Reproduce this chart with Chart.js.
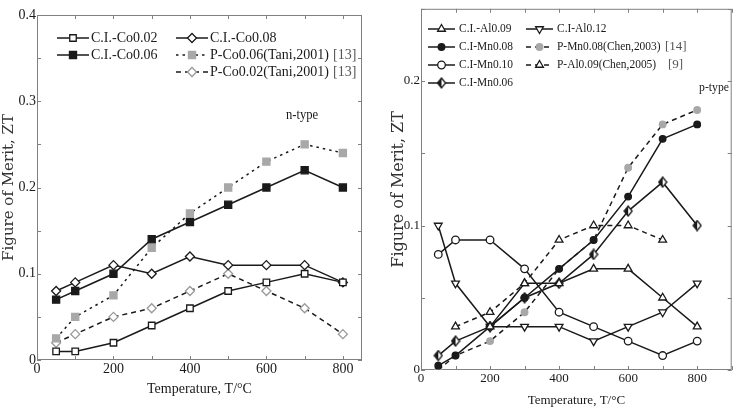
<!DOCTYPE html>
<html>
<head>
<meta charset="utf-8">
<script src="https://cdn.jsdelivr.net/npm/chart.js@4/dist/chart.umd.min.js"></script>
<style>
  html, body { margin: 0; padding: 0; background: #fff; }
  #wrap { position: relative; width: 738px; height: 408px; }
  .box { position: absolute; top: 0; width: 369px; height: 408px; }
</style>
</head>
<body>
<div id="wrap">
  <div class="box" style="left:0"><canvas id="nChart" width="369" height="408"></canvas></div>
  <div class="box" style="left:369px"><canvas id="pChart" width="369" height="408"></canvas></div>
</div>
<script>
// temperatures (deg C)
var temps = [50, 100, 200, 300, 400, 500, 600, 700, 800];
var tempsAl = [200, 300, 400, 500, 600, 700, 800];
var tempsPAl = [100, 200, 300, 400, 500, 600, 700];

// n-type (left)
var nLabels = ["C.I.-Co0.02", "C.I.-Co0.06", "C.I.-Co0.08", "P-Co0.06(Tani,2001)", "P-Co0.02(Tani,2001)"];
var nRefs = ["", "", "", "[13]", "[13]"];
var co002 = [0.01, 0.01, 0.02, 0.04, 0.06, 0.08, 0.09, 0.10, 0.09];
var co006 = [0.07, 0.08, 0.10, 0.14, 0.16, 0.18, 0.20, 0.22, 0.20];
var co008 = [0.08, 0.09, 0.11, 0.10, 0.12, 0.11, 0.11, 0.11, 0.09];
var pCo006 = [0.025, 0.05, 0.075, 0.13, 0.17, 0.20, 0.23, 0.25, 0.24];
var pCo002 = [0.02, 0.03, 0.05, 0.06, 0.08, 0.10, 0.08, 0.06, 0.03];

// p-type (right)
var pLabels = ["C.I.-Al0.09", "C.I-Mn0.08", "C.I-Mn0.10", "C.I-Mn0.06", "C.I-Al0.12", "P-Mn0.08(Chen,2003)", "P-Al0.09(Chen,2005)"];
var pRefs = ["", "", "", "", "", "[14]", "[9]"];
var al009 = [0.03, 0.06, 0.06, 0.07, 0.07, 0.05, 0.03];
var mn008 = [0.003, 0.01, 0.03, 0.05, 0.07, 0.09, 0.12, 0.16, 0.17];
var mn010 = [0.08, 0.09, 0.09, 0.07, 0.04, 0.03, 0.02, 0.01, 0.02];
var mn006 = [0.01, 0.02, 0.03, 0.05, 0.06, 0.08, 0.11, 0.13, 0.10];
var al012 = [0.10, 0.06, 0.03, 0.03, 0.03, 0.02, 0.03, 0.04, 0.06];
var pMn008 = [0.0, 0.01, 0.02, 0.04, 0.07, 0.09, 0.14, 0.17, 0.18];
var pAl009 = [0.03, 0.04, 0.06, 0.09, 0.10, 0.10, 0.09];

// labelled ticks
var xTickLabels = [0, 200, 400, 600, 800];
var nYTickLabels = [0, 0.1, 0.2, 0.3, 0.4];
var pYTickLabels = [0, 0.1, 0.2];

var INK = "#1a1a1a";
var GREY = "#a8a8a8";
var FRAME = "#808080";

function pts(xs, ys) {
  return xs.map(function (x, i) { return { x: x, y: ys[i] }; });
}

function series(label, xs, ys, s) {
  return {
    label: label,
    data: pts(xs, ys),
    borderColor: INK,
    borderWidth: 1.5,
    borderDash: s.dash || [],
    pointStyle: s.style,
    rotation: s.rot || 0,
    pointRadius: s.r,
    pointBackgroundColor: s.fill,
    pointBorderColor: s.edge || INK,
    pointBorderWidth: s.bw == null ? 1.3 : s.bw,
    tension: 0
  };
}

// half filled diamond marker
function halfDiamond() {
  var c = document.createElement("canvas");
  c.width = 10; c.height = 12;
  var g = c.getContext("2d");
  g.beginPath();
  g.moveTo(5, 1); g.lineTo(9, 6); g.lineTo(5, 11); g.lineTo(1, 6); g.closePath();
  g.fillStyle = "#fff"; g.fill();
  g.beginPath();
  g.moveTo(5, 1); g.lineTo(5, 11); g.lineTo(1, 6); g.closePath();
  g.fillStyle = INK; g.fill();
  g.beginPath();
  g.moveTo(5, 1); g.lineTo(9, 6); g.lineTo(5, 11); g.lineTo(1, 6); g.closePath();
  g.lineWidth = 1.3; g.strokeStyle = INK; g.stroke();
  return c;
}
var halfDia = halfDiamond();

function pickLabel(list) {
  return function (v) {
    for (var i = 0; i < list.length; i++) {
      if (Math.abs(list[i] - v) < 1e-6) return String(list[i]);
    }
    return "";
  };
}

// frame with inward ticks on all four sides
var frameTicks = {
  id: "frameTicks",
  beforeDatasetsDraw: function (chart) {
    var a = chart.chartArea, ctx = chart.ctx, len = 4;
    var xs = chart.scales.x, ys = chart.scales.y;
    ctx.save();
    ctx.strokeStyle = FRAME;
    ctx.lineWidth = 1;
    ctx.strokeRect(a.left + 0.5, a.top + 0.5, a.right - a.left - 1, a.bottom - a.top - 1);
    ctx.beginPath();
    xs.ticks.forEach(function (t) {
      var px = Math.round(xs.getPixelForValue(t.value)) + 0.5;
      ctx.moveTo(px, a.bottom); ctx.lineTo(px, a.bottom - len);
      ctx.moveTo(px, a.top); ctx.lineTo(px, a.top + len);
    });
    ys.ticks.forEach(function (t) {
      var py = Math.round(ys.getPixelForValue(t.value)) + 0.5;
      ctx.moveTo(a.left, py); ctx.lineTo(a.left + len, py);
      ctx.moveTo(a.right, py); ctx.lineTo(a.right - len, py);
    });
    ctx.stroke();
    ctx.restore();
  }
};

function textSqueezed(ctx, str, x, y, sx) {
  ctx.save();
  ctx.translate(x, y);
  ctx.scale(sx, 1);
  ctx.fillText(str, 0, 0);
  ctx.restore();
}

// legend box drawn inside plot, two columns
function makeLegend(cfg) {
  return {
    id: "boxLegend",
    afterDraw: function (chart) {
      var ctx = chart.ctx;
      ctx.save();
      cfg.items.forEach(function (it, i) {
        var ds = chart.data.datasets[i];
        ctx.strokeStyle = ds.borderColor;
        ctx.lineWidth = ds.borderWidth;
        ctx.setLineDash(ds.borderDash);
        ctx.beginPath();
        ctx.moveTo(it.x, it.y);
        ctx.lineTo(it.x + cfg.len, it.y);
        ctx.stroke();
        ctx.setLineDash([]);
        ctx.fillStyle = ds.pointBackgroundColor;
        ctx.strokeStyle = ds.pointBorderColor;
        ctx.lineWidth = ds.pointBorderWidth;
        Chart.helpers.drawPoint(ctx, {
          pointStyle: ds.pointStyle, rotation: ds.rotation,
          radius: ds.pointRadius, borderWidth: ds.pointBorderWidth
        }, it.x + cfg.len / 2, it.y);
        ctx.fillStyle = INK;
        ctx.font = cfg.font;
        ctx.textBaseline = "middle";
        ctx.textAlign = "left";
        textSqueezed(ctx, ds.label, it.x + cfg.len + cfg.gap, it.y, cfg.squeeze);
        if (cfg.refs[i]) {
          ctx.fillStyle = "#555";
          ctx.font = cfg.refFont;
          ctx.fillText(cfg.refs[i], it.refX, it.y);
        }
      });
      ctx.font = cfg.noteFont;
      ctx.fillStyle = INK;
      ctx.textAlign = "center";
      textSqueezed(ctx, cfg.note, cfg.noteX, cfg.noteY, 0.9);
      ctx.restore();
    }
  };
}

function baseOptions(o) {
  return {
    responsive: false,
    animation: false,
    devicePixelRatio: 1,
    layout: { padding: o.pad },
    plugins: { legend: { display: false }, tooltip: { enabled: false } },
    scales: {
      x: {
        type: "linear",
        min: 0,
        max: o.xMax,
        grid: { display: false, drawTicks: false },
        border: { display: false },
        ticks: {
          stepSize: 100, includeBounds: false, autoSkip: false, maxRotation: 0, padding: 1,
          color: INK, font: { family: "Liberation Serif", size: o.tickSize },
          callback: pickLabel(xTickLabels)
        },
        title: {
          display: true, text: "Temperature, T/\u00b0C", color: INK,
          font: { family: "Liberation Serif", size: o.xTitleSize },
          padding: { top: 0, bottom: o.xTitlePad }
        },
        afterFit: function (s) { s.height = o.xH; }
      },
      y: {
        min: 0,
        max: o.yMax,
        grid: { display: false, drawTicks: false },
        border: { display: false },
        ticks: {
          stepSize: 0.05, autoSkip: false, padding: 1,
          color: INK, font: { family: "Liberation Serif", size: o.tickSize },
          callback: pickLabel(o.yLabels)
        },
        title: {
          display: true, text: "Figure of Merit, ZT", color: "#333",
          font: { family: "DejaVu Serif", size: o.yTitleSize },
          padding: { top: 0, bottom: 0 }
        },
        afterFit: function (s) { s.width = o.yW; }
      }
    }
  };
}

// n-type chart
new Chart(document.getElementById("nChart").getContext("2d"), {
  type: "line",
  data: {
    datasets: [
      series(nLabels[0], temps, co002, { style: "rect", r: 4.6, fill: "#fff" }),
      series(nLabels[1], temps, co006, { style: "rect", r: 5, fill: INK }),
      series(nLabels[2], temps, co008, { style: "rectRot", r: 4.5, fill: "#fff" }),
      series(nLabels[3], temps, pCo006, { style: "rect", r: 5, fill: GREY, edge: GREY, dash: [2.5, 4] }),
      series(nLabels[4], temps, pCo002, { style: "rectRot", r: 4.5, fill: "#fff", edge: "#999", dash: [5, 4] })
    ]
  },
  options: baseOptions({
    pad: { top: 15, right: 7, left: 0, bottom: 0 },
    xMax: 850, yMax: 0.4, yLabels: nYTickLabels,
    tickSize: 14, xTitleSize: 14, xTitlePad: 10, yTitleSize: 15,
    xH: 48, yW: 37
  }),
  plugins: [frameTicks, makeLegend({
    len: 32, gap: 2, font: "14px 'Liberation Serif'", refFont: "14px 'Liberation Serif'", squeeze: 1,
    items: [
      { x: 57, y: 38 }, { x: 57, y: 55 },
      { x: 176, y: 38 }, { x: 176, y: 55, refX: 333 }, { x: 176, y: 72, refX: 333 }
    ],
    refs: nRefs,
    note: "n-type", noteX: 302, noteY: 115, noteFont: "14px 'Liberation Serif'"
  })]
});

// p-type chart
new Chart(document.getElementById("pChart").getContext("2d"), {
  type: "line",
  data: {
    datasets: [
      series(pLabels[0], tempsAl, al009, { style: "triangle", r: 4.5, fill: "#fff" }),
      series(pLabels[1], temps, mn008, { style: "circle", r: 3.3, fill: INK }),
      series(pLabels[2], temps, mn010, { style: "circle", r: 3.8, fill: "#fff" }),
      series(pLabels[3], temps, mn006, { style: halfDia, r: 5, fill: INK }),
      series(pLabels[4], temps, al012, { style: "triangle", rot: 180, r: 4.5, fill: "#fff" }),
      series(pLabels[5], temps, pMn008, { style: "circle", r: 3.3, fill: GREY, edge: GREY, dash: [5, 4] }),
      series(pLabels[6], tempsPAl, pAl009, { style: "triangle", r: 4.5, fill: "#fff", dash: [5, 4] })
    ]
  },
  options: baseOptions({
    pad: { top: 8, right: 2, left: 20, bottom: 0 },
    xMax: 900, yMax: 0.25, yLabels: pYTickLabels,
    tickSize: 13, xTitleSize: 13, xTitlePad: 0, yTitleSize: 16,
    xH: 38, yW: 32
  }),
  plugins: [frameTicks, makeLegend({
    len: 27, gap: 4, font: "13px 'Liberation Serif'", refFont: "13px 'Liberation Serif'", squeeze: 0.88,
    items: [
      { x: 59, y: 29 }, { x: 59, y: 47 }, { x: 59, y: 65 }, { x: 59, y: 83 },
      { x: 157, y: 29 }, { x: 157, y: 47, refX: 296 }, { x: 157, y: 65, refX: 299 }
    ],
    refs: pRefs,
    note: "p-type", noteX: 345, noteY: 88, noteFont: "13px 'Liberation Serif'"
  })]
});
</script>
</body>
</html>
